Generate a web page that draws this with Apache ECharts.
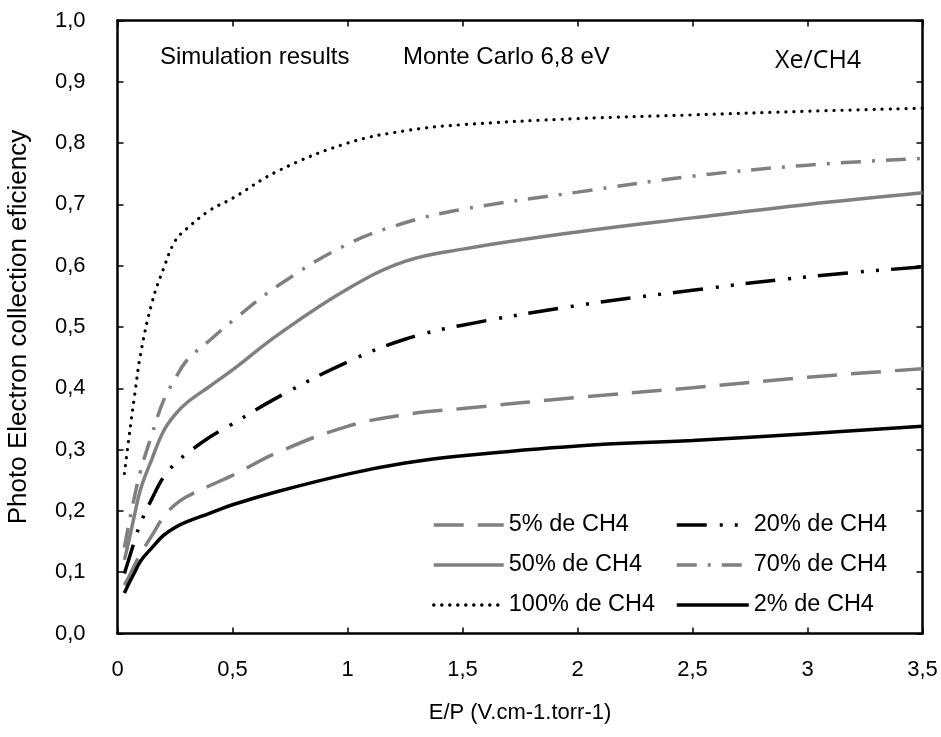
<!DOCTYPE html>
<html>
<head>
<meta charset="utf-8">
<script src="https://cdn.jsdelivr.net/npm/echarts@6/dist/echarts.min.js"></script>
<style>
html,body{margin:0;padding:0;background:#fff;}
#chart{width:941px;height:737px;}
</style>
</head>
<body>
<div id="chart"></div>
<script>
// ---- data ----
const xValues = [0.03, 0.05, 0.075, 0.1, 0.15, 0.2, 0.25, 0.3, 0.4, 0.5, 0.7, 1.0, 1.25, 1.5, 2.0, 2.5, 3.0, 3.5];
const ch4_2   = [0.066, 0.082, 0.100, 0.118, 0.140, 0.160, 0.173, 0.182, 0.196, 0.210, 0.232, 0.260, 0.278, 0.290, 0.306, 0.315, 0.326, 0.338];
const ch4_5   = [0.079, 0.093, 0.112, 0.130, 0.160, 0.190, 0.210, 0.223, 0.241, 0.258, 0.296, 0.338, 0.357, 0.367, 0.385, 0.401, 0.418, 0.432];
const ch4_20  = [0.098, 0.122, 0.152, 0.180, 0.220, 0.255, 0.277, 0.293, 0.320, 0.342, 0.386, 0.443, 0.480, 0.503, 0.535, 0.560, 0.582, 0.598];
const ch4_50  = [0.120, 0.152, 0.195, 0.235, 0.285, 0.330, 0.357, 0.376, 0.403, 0.430, 0.488, 0.562, 0.607, 0.627, 0.655, 0.678, 0.700, 0.719];
const ch4_70  = [0.140, 0.180, 0.225, 0.265, 0.325, 0.380, 0.415, 0.445, 0.478, 0.510, 0.568, 0.635, 0.670, 0.692, 0.720, 0.746, 0.764, 0.775];
const ch4_100 = [0.261, 0.320, 0.390, 0.455, 0.540, 0.595, 0.640, 0.660, 0.690, 0.710, 0.755, 0.800, 0.820, 0.830, 0.840, 0.846, 0.852, 0.857];

const seriesNames = ['5% de CH4', '20% de CH4', '50% de CH4', '70% de CH4', '100% de CH4', '2% de CH4'];
const xTicks = [0, 0.5, 1, 1.5, 2, 2.5, 3, 3.5];
const yTicks = [0, 0.1, 0.2, 0.3, 0.4, 0.5, 0.6, 0.7, 0.8, 0.9, 1.0];
const annotations = ['Simulation results', 'Monte Carlo 6,8 eV', 'Xe/CH4'];
const xTitle = 'E/P (V.cm-1.torr-1)';
const yTitle = 'Photo Electron collection eficiency';

// ---- build ----
const GRAY = '#808080';
const FONT = '"Liberation Sans", Arial, sans-serif';
function pts(arr){ return xValues.map((x,i)=>[x, arr[i]]); }
function mk(name, arr, color, width, type, cap){
  return {
    name, type:'line', data: pts(arr), smooth: 0.4,
    symbol:'none', showSymbol:false, silent:true, z: 3,
    xAxisIndex:0, yAxisIndex:0,
    lineStyle:{color, width, type, cap: cap || 'butt'},
    itemStyle:{color}
  };
}
const series = [
  mk(seriesNames[0], ch4_5, GRAY, 3.5, [30, 14]),
  mk(seriesNames[1], ch4_20, '#000', 3.5, [30, 13, 3, 12, 3, 12]),
  mk(seriesNames[2], ch4_50, GRAY, 3.5, 'solid'),
  mk(seriesNames[3], ch4_70, GRAY, 3.5, [20, 11, 3, 11]),
  mk(seriesNames[4], ch4_100, '#000', 3.2, [0.1, 7.9], 'round'),
  mk(seriesNames[5], ch4_2, '#000', 3.5, 'solid')
];

function axisLine(){ return {show:true, onZero:false, lineStyle:{color:'#000', width:2.5}}; }
function axisTick(){ return {show:true, inside:true, length:6, lineStyle:{color:'#000', width:1.5}}; }
const fmt = v => String(Math.round(v*10)/10).replace('.', ',');

const legendCommon = {
  orient:'vertical', top:508, itemHeight:24, itemGap:16,
  textStyle:{fontFamily:FONT, fontSize:23.5, color:'#000', lineHeight:24},
  itemStyle:{opacity:0},
  lineStyle:{width:3.5},
  selectedMode:false
};

const option = {
  animation:false,
  backgroundColor:'#fff',
  grid:{left:117.5, right:18.5, top:20.5, bottom:103.5, containLabel:false, outerBoundsMode:'none'},
  xAxis:[{
    type:'value', min:0, max:3.5, interval:0.5,
    name: xTitle, nameLocation:'middle', nameGap:68,
    nameTextStyle:{fontFamily:FONT, fontSize:22, color:'#000'},
    axisLine: axisLine(),
    axisTick: axisTick(),
    splitLine:{show:false},
    axisLabel:{fontFamily:FONT, fontSize:22, color:'#000', margin:25,
      formatter: v => { const i = xTicks.indexOf(v); return i>=0 ? fmt(xTicks[i]) : ''; }}
  },{
    type:'value', min:0, max:3.5, interval:0.5, position:'top',
    axisLine: axisLine(),
    axisTick: axisTick(), axisLabel:{show:false}, splitLine:{show:false}
  }],
  yAxis:[{
    type:'value', min:0, max:1, interval:0.1,
    name: yTitle, nameLocation:'middle', nameGap:86, nameRotate:90,
    nameTextStyle:{fontFamily:FONT, fontSize:26, color:'#000'},
    axisLine: axisLine(),
    axisTick: axisTick(),
    splitLine:{show:false},
    axisLabel:{fontFamily:FONT, fontSize:22, color:'#000', margin:32,
      formatter: v => { const i = yTicks.findIndex(t=>Math.abs(t-v)<1e-9); return i>=0 ? yTicks[i].toFixed(1).replace('.', ',') : ''; }}
  },{
    type:'value', min:0, max:1, interval:0.1, position:'right',
    axisLine: axisLine(),
    axisTick: axisTick(), axisLabel:{show:false}, splitLine:{show:false}
  }],
  legend:[
    Object.assign({}, legendCommon, {left:427, itemWidth:70, data:[seriesNames[0], seriesNames[2], seriesNames[4]]}),
    Object.assign({}, legendCommon, {left:670, itemWidth:72, data:[seriesNames[1], seriesNames[3], seriesNames[5]]})
  ],
  graphic:[
    {type:'text', left:160, top:45, style:{text:annotations[0], font:'24px ' + FONT, fill:'#000'}},
    {type:'text', left:403, top:45, style:{text:annotations[1], font:'24px ' + FONT, fill:'#000'}},
    {type:'text', left:775, top:48, style:{text:annotations[2], font:'25px "Open Sans", sans-serif', fill:'#000'}}
  ],
  series
};
const chart = echarts.init(document.getElementById('chart'), null, {renderer:'canvas'});
chart.setOption(option);
</script>
</body>
</html>
